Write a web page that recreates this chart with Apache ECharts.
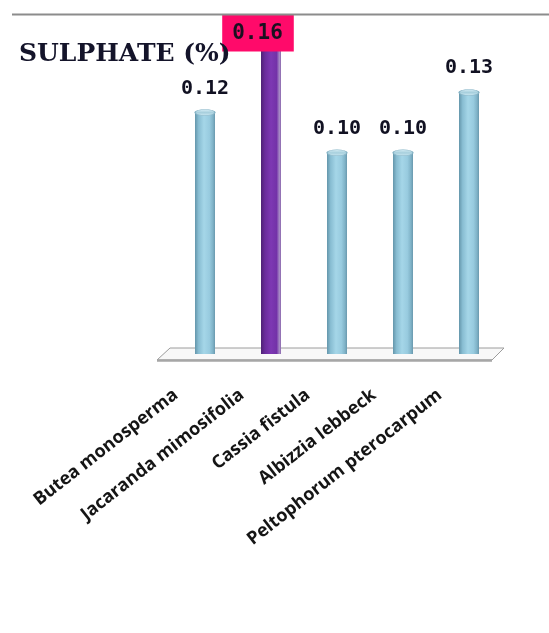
<!DOCTYPE html>
<html>
<head>
<meta charset="utf-8">
<script src="https://cdn.jsdelivr.net/npm/echarts@6/dist/echarts.min.js"></script>
<style>
  html, body { margin: 0; padding: 0; background: #ffffff; }
  #chart { width: 549px; height: 633px; }
</style>
</head>
<body>
<div id="chart"></div>
<script>
// Sulphate content (%) of leaf litter per tree species
const categories = [
  'Butea monosperma',
  'Jacaranda mimosifolia',
  'Cassia fistula',
  'Albizzia lebbeck',
  'Peltophorum pterocarpum'
];
const sulphate = [0.12, 0.16, 0.10, 0.10, 0.13];
const highlighted = [false, true, false, false, false];
const valueLabels = ['0.12', '0.16', '0.10', '0.10', '0.13'];
const chartTitle = 'SULPHATE (%)';

// Cylinder shading: horizontal gradients for the body and the top cap
function bodyGradient(hl) {
  const stops = hl
    ? [['#4e2275', 0], ['#6a2c9c', 0.2], ['#7d38b3', 0.5], ['#7332a8', 0.78], ['#a78cc6', 0.92], ['#8a67ad', 1]]
    : [['#6496ab', 0], ['#88bdd2', 0.18], ['#a5d6e8', 0.45], ['#98cbdf', 0.72], ['#7fb2c7', 0.9], ['#6998ad', 1]];
  return new echarts.graphic.LinearGradient(0, 0, 1, 0,
    stops.map(s => ({ color: s[0], offset: s[1] })));
}
function capGradient(hl) {
  const stops = hl
    ? [['#8a52b8', 0], ['#6e2fa3', 0.5], ['#8a52b8', 1]]
    : [['#d6eef6', 0], ['#a7cfdd', 0.5], ['#cde9f2', 1]];
  return new echarts.graphic.LinearGradient(0, 0, 0, 1,
    stops.map(s => ({ color: s[0], offset: s[1] })));
}

const bodyData = sulphate.map((v, i) => ({
  value: v,
  itemStyle: { color: bodyGradient(highlighted[i]) }
}));

const capData = sulphate.map((v, i) => {
  const item = {
    value: v,
    itemStyle: {
      color: capGradient(highlighted[i]),
      borderColor: highlighted[i] ? '#5a2a86' : '#86b3c5',
      borderWidth: 0.8,
      opacity: 1
    }
  };
  if (highlighted[i]) {
    item.label = {
      position: 'inside',
      offset: [-13, 1],
      backgroundColor: '#ff0a6a',
      padding: [8, 11, 8, 10],
      fontWeight: 'bold',
      fontSize: 21,
      lineHeight: 21,
      color: '#1a1020'
    };
  }
  return item;
});

const chart = echarts.init(document.getElementById('chart'), null, { renderer: 'canvas' });

chart.setOption({
  animation: false,
  backgroundColor: '#ffffff',
  grid: { left: 172, right: 47, top: 12, bottom: 279, containLabel: false },
  xAxis: {
    type: 'category',
    data: categories,
    axisLine: { show: false },
    axisTick: { show: false },
    splitLine: { show: false },
    axisLabel: {
      interval: 0,
      rotate: 38,
      margin: 16,
      padding: [0, 37, 0, 0],
      fontFamily: 'Open Sans',
      fontWeight: 'bold',
      fontSize: 18,
      color: '#151515'
    }
  },
  yAxis: {
    type: 'value',
    min: 0,
    max: 0.17,
    show: false
  },
  graphic: [
    {
      type: 'line',
      shape: { x1: 12, y1: 14.5, x2: 549, y2: 14.5 },
      style: { stroke: '#8c8c8c', lineWidth: 2 },
      z: 10
    },
    {
      type: 'text',
      x: 19,
      y: 54,
      z: 20,
      style: {
        text: chartTitle,
        font: 'bold 25px "DejaVu Serif", "Liberation Serif", serif',
        fill: '#14142a',
        textVerticalAlign: 'middle',
        verticalAlign: 'middle'
      }
    }
  ],
  series: [
    {
      // 3D floor plate under the cylinders
      type: 'custom',
      z: 1,
      silent: true,
      data: [[0, 0]],
      renderItem: function (params, api) {
        const cs = params.coordSys;
        const base = cs.y + cs.height;
        const left = cs.x, right = cs.x + cs.width;
        return {
          type: 'group',
          children: [
            {
              type: 'polygon',
              shape: {
                points: [
                  [left - 2, base - 6],
                  [right + 2, base - 6],
                  [right - 10, base + 6],
                  [left - 15, base + 6]
                ]
              },
              style: { fill: '#f8f8f8', stroke: '#9c9c9c', lineWidth: 1 }
            },
            {
              type: 'line',
              shape: { x1: left - 15, y1: base + 6.5, x2: right - 10, y2: base + 6.5 },
              style: { stroke: '#a6a6a6', lineWidth: 2.5 }
            }
          ]
        };
      }
    },
    {
      // cylinder bodies
      type: 'bar',
      z: 2,
      barWidth: 20,
      data: bodyData,
      silent: true
    },
    {
      // elliptical tops of the cylinders, carrying the value labels
      type: 'scatter',
      z: 3,
      symbol: 'circle',
      symbolSize: [20, 6],
      data: capData,
      silent: true,
      itemStyle: { opacity: 1 },
      label: {
        show: true,
        position: 'top',
        distance: 11,
        formatter: p => valueLabels[p.dataIndex],
        fontFamily: 'DejaVu Sans Mono',
        fontWeight: 'bold',
        fontSize: 20,
        lineHeight: 20,
        color: '#111122'
      }
    }
  ]
});
</script>
</body>
</html>
